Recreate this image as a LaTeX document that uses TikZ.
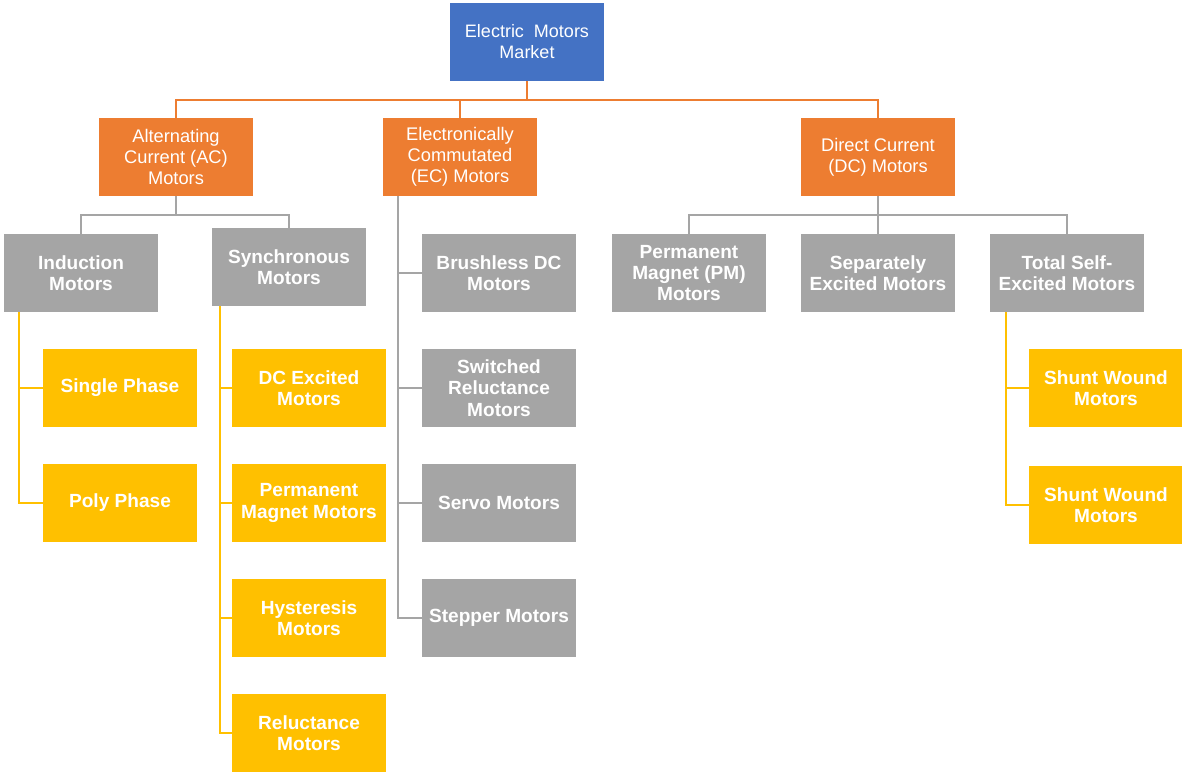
\documentclass[tikz,border=0pt]{standalone}
\usepackage{fontspec}
\setmainfont{Liberation Sans}
\definecolor{cblue}{HTML}{4472C4}
\definecolor{corange}{HTML}{ED7D31}
\definecolor{cgray}{HTML}{A5A5A5}
\definecolor{cyellow}{HTML}{FFC000}
\begin{document}
\begin{tikzpicture}[x=0.75pt,y=-0.75pt,
  box/.style={minimum width=115.5pt,minimum height=58.5pt,inner sep=1pt,align=center,text=white},
  topbox/.style={box,fill=cblue,font=\fontsize{13.5pt}{15.75pt}\selectfont},
  obox/.style={box,fill=corange,font=\fontsize{13.7pt}{15.75pt}\selectfont},
  gbox/.style={box,fill=cgray,font=\bfseries\fontsize{14.3pt}{15.9pt}\selectfont},
  ybox/.style={box,fill=cyellow,font=\bfseries\fontsize{14.3pt}{15.9pt}\selectfont},
  oline/.style={draw=corange,line width=1.5pt},
  gline/.style={draw=cgray,line width=1.5pt},
  yline/.style={draw=cyellow,line width=1.5pt}]
\useasboundingbox (0,0) rectangle (1182,772);
% top
\node[topbox] (top) at (527,42) {Electric\ \ Motors\\Market};
% level 1
\node[obox] (ac) at (176,157) {Alternating\\Current (AC)\\Motors};
\node[obox] (ec) at (460,157) {Electronically\\Commutated\\(EC) Motors};
\node[obox] (dc) at (878,157) {Direct Current\\(DC) Motors};
% AC children
\node[gbox] (ind) at (81,273) {Induction\\Motors};
\node[gbox] (syn) at (289,267) {Synchronous\\Motors};
% EC children
\node[gbox] (bdc) at (499,273) {Brushless DC\\Motors};
\node[gbox] (sr) at (499,388) {Switched\\Reluctance\\Motors};
\node[gbox] (servo) at (499,503) {Servo Motors};
\node[gbox] (step1) at (499,618) {Stepper Motors};
% DC children
\node[gbox] (pm) at (689,273) {Permanent\\Magnet (PM)\\Motors};
\node[gbox] (sep) at (878,273) {Separately\\Excited Motors};
\node[gbox] (tse) at (1067,273) {Total Self-\\Excited Motors};
% Induction children
\node[ybox] (sp) at (120,388) {Single Phase};
\node[ybox] (pp) at (120,503) {Poly Phase};
% Synchronous children
\node[ybox] (dce) at (309,388) {DC Excited\\Motors};
\node[ybox] (pmm) at (309,503) {Permanent\\Magnet Motors};
\node[ybox] (hys) at (309,618) {Hysteresis\\Motors};
\node[ybox] (rel) at (309,733) {Reluctance\\Motors};
% Total self-excited children
\node[ybox] (sw1) at (1106,388) {Shunt Wound\\Motors};
\node[ybox] (sw2) at (1106,505) {Shunt Wound\\Motors};
% orange connectors
\coordinate (bus) at (527,100);
\draw[oline] (top.south) -- (top.south|-bus);
\draw[oline] (ac.north) |- (dc.north|-bus) -- (dc.north);
\draw[oline] (ec.north) -- (ec.north|-bus);
% AC connectors
\coordinate (acbus) at (176,215);
\draw[gline] (ac.south) -- (acbus);
\draw[gline] (ind.north) |- (syn.north|-acbus) -- (syn.north);
% DC connectors
\coordinate (dcbus) at (878,215);
\draw[gline] (dc.south) -- (dcbus);
\draw[gline] (pm.north) |- (tse.north|-dcbus) -- (tse.north);
\draw[gline] (sep.north) -- (sep.north|-dcbus);
% EC connectors
\coordinate (ecx) at (398,196);
\draw[gline] (ecx) -- (ecx|-step1.west) -- (step1.west);
\draw[gline] (ecx|-bdc.west) -- (bdc.west);
\draw[gline] (ecx|-sr.west) -- (sr.west);
\draw[gline] (ecx|-servo.west) -- (servo.west);
% induction connectors
\coordinate (indx) at (19,312);
\draw[yline] (indx) -- (indx|-pp.west) -- (pp.west);
\draw[yline] (indx|-sp.west) -- (sp.west);
% synchronous connectors
\coordinate (synx) at (220,306);
\draw[yline] (synx) -- (synx|-rel.west) -- (rel.west);
\draw[yline] (synx|-dce.west) -- (dce.west);
\draw[yline] (synx|-pmm.west) -- (pmm.west);
\draw[yline] (synx|-hys.west) -- (hys.west);
% total self-excited connectors
\coordinate (tsex) at (1006,312);
\draw[yline] (tsex) -- (tsex|-sw2.west) -- (sw2.west);
\draw[yline] (tsex|-sw1.west) -- (sw1.west);
\end{tikzpicture}
\end{document}
